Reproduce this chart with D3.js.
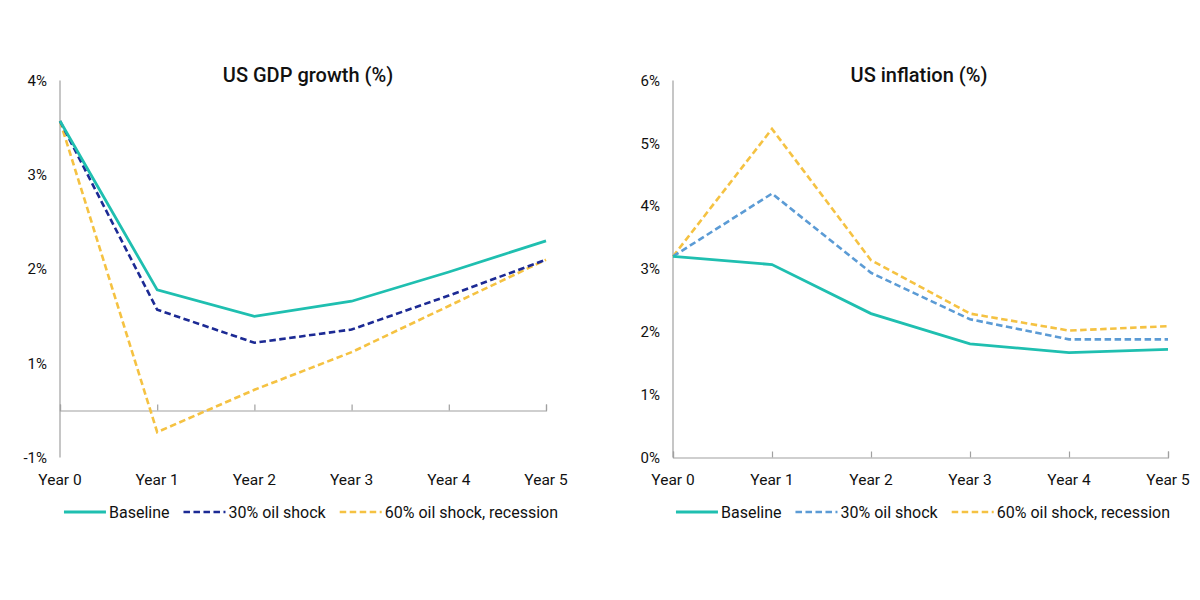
<!DOCTYPE html>
<html>
<head>
<meta charset="utf-8">
<script src="https://cdn.jsdelivr.net/npm/d3@7"></script>
<style>
  html, body { margin: 0; padding: 0; background: #fff; }
  svg { display: block; font-family: Roboto, "Noto Sans", Arial, sans-serif; }
</style>
</head>
<body>
<svg id="chart" width="1200" height="600"></svg>
<script>
// ---------- DATA ----------
const years = ["Year 0", "Year 1", "Year 2", "Year 3", "Year 4", "Year 5"];
const seriesNames = ["Baseline", "30% oil shock", "60% oil shock, recession"];

// US GDP growth (%)
const gdpBaseline = [3.57, 1.78, 1.50, 1.66, 1.97, 2.30];
const gdpShock30  = [3.57, 1.57, 1.22, 1.36, 1.72, 2.10];
const gdpShock60  = [3.57, -0.46, 0.44, 1.12, 1.61, 2.10];
const gdpTickValues = [4, 3, 2, 1, -1];
const gdpTickLabels = ["4%", "3%", "2%", "1%", "-1%"];

// US inflation (%)
const infBaseline = [3.20, 3.07, 2.29, 1.81, 1.67, 1.72];
const infShock30  = [3.20, 4.20, 2.94, 2.20, 1.88, 1.88];
const infShock60  = [3.20, 5.23, 3.14, 2.29, 2.02, 2.09];
const infTickValues = [6, 5, 4, 3, 2, 1, 0];
const infTickLabels = ["6%", "5%", "4%", "3%", "2%", "1%", "0%"];

// ---------- DRAW ----------
const svg = d3.select("#chart");
const teal = "#1fbfb0", yellow = "#f5c242";

function panel(cfg) {
  const g = svg.append("g");
  const x = d3.scalePoint().domain(years).range([cfg.x0, cfg.x1]);
  const y = d3.scaleLinear().domain(cfg.domain).range(cfg.range);

  // title
  g.append("text").attr("x", cfg.titleX).attr("y", 82)
    .attr("text-anchor", "middle").attr("font-size", 20).attr("font-weight", 500)
    .attr("fill", "#111").text(cfg.title);

  // y axis line
  g.append("line").attr("x1", cfg.x0).attr("x2", cfg.x0)
    .attr("y1", y(cfg.domain[cfg.domain.length - 1])).attr("y2", y(cfg.domain[0]))
    .attr("stroke", "#a0a0a0").attr("stroke-width", 1.2);

  // y tick labels
  g.selectAll(".yl").data(cfg.tickValues).join("text")
    .attr("x", cfg.x0 - 13).attr("y", d => y(d)).attr("dy", "0.35em")
    .attr("text-anchor", "end").attr("font-size", 15).attr("fill", "#111")
    .text((d, i) => cfg.tickLabels[i]);

  // x axis (category axis crossing at zero)
  const xAxis = d3.axisTop(x).tickSize(6).tickFormat("");
  const ax = g.append("g").attr("transform", `translate(0,${y(0)})`).call(xAxis);
  ax.select(".domain").attr("stroke", "#a0a0a0").attr("stroke-width", 1.2);
  ax.selectAll(".tick line").attr("stroke", "#a0a0a0").attr("stroke-width", 1.2);

  // x labels
  g.selectAll(".xl").data(years).join("text")
    .attr("x", d => x(d)).attr("y", 480).attr("dy", "0.35em")
    .attr("text-anchor", "middle").attr("font-size", 15.5).attr("fill", "#111")
    .text(d => d);

  const line = d3.line().x((d, i) => x(years[i])).y(d => y(d));
  const styles = [
    { color: teal, dash: null, w: 2.8 },
    { color: cfg.shock30Color, dash: "6.5,3.5", w: 2.6 },
    { color: yellow, dash: "6.5,3.5", w: 2.6 }
  ];
  // draw order: yellow, blue, teal (teal on top)
  [2, 1, 0].forEach(k => {
    g.append("path").datum(cfg.series[k]).attr("d", line)
      .attr("fill", "none").attr("stroke", styles[k].color)
      .attr("stroke-width", styles[k].w)
      .attr("stroke-dasharray", styles[k].dash)
      .attr("stroke-linejoin", "miter");
  });

  // legend
  const lg = g.append("g");
  let pos = 0;
  seriesNames.forEach((name, k) => {
    const it = lg.append("g").attr("transform", `translate(${pos},0)`);
    it.append("line").attr("x1", 0).attr("x2", 42).attr("y1", 0).attr("y2", 0)
      .attr("stroke", styles[k].color).attr("stroke-width", styles[k].w)
      .attr("stroke-dasharray", styles[k].dash);
    const t = it.append("text").attr("x", 45).attr("y", 0).attr("dy", "0.35em")
      .attr("font-size", 16).attr("fill", "#111").text(name);
    pos += 45 + t.node().getComputedTextLength() + 14;
  });
  const total = pos - 14;
  lg.attr("transform", `translate(${cfg.legendX - total / 2},512)`);
}

panel({
  title: "US GDP growth (%)",
  x0: 60, x1: 546, titleX: 308, legendX: 311,
  domain: [-1, 1, 4], range: [457.5, 363.5, 80.5],
  tickValues: gdpTickValues, tickLabels: gdpTickLabels,
  series: [gdpBaseline, gdpShock30, gdpShock60],
  shock30Color: "#1c2a94"
});

panel({
  title: "US inflation (%)",
  x0: 673, x1: 1168, titleX: 919, legendX: 923,
  domain: [0, 6], range: [457.5, 80.5],
  tickValues: infTickValues, tickLabels: infTickLabels,
  series: [infBaseline, infShock30, infShock60],
  shock30Color: "#5b9bd5"
});
</script>
</body>
</html>
